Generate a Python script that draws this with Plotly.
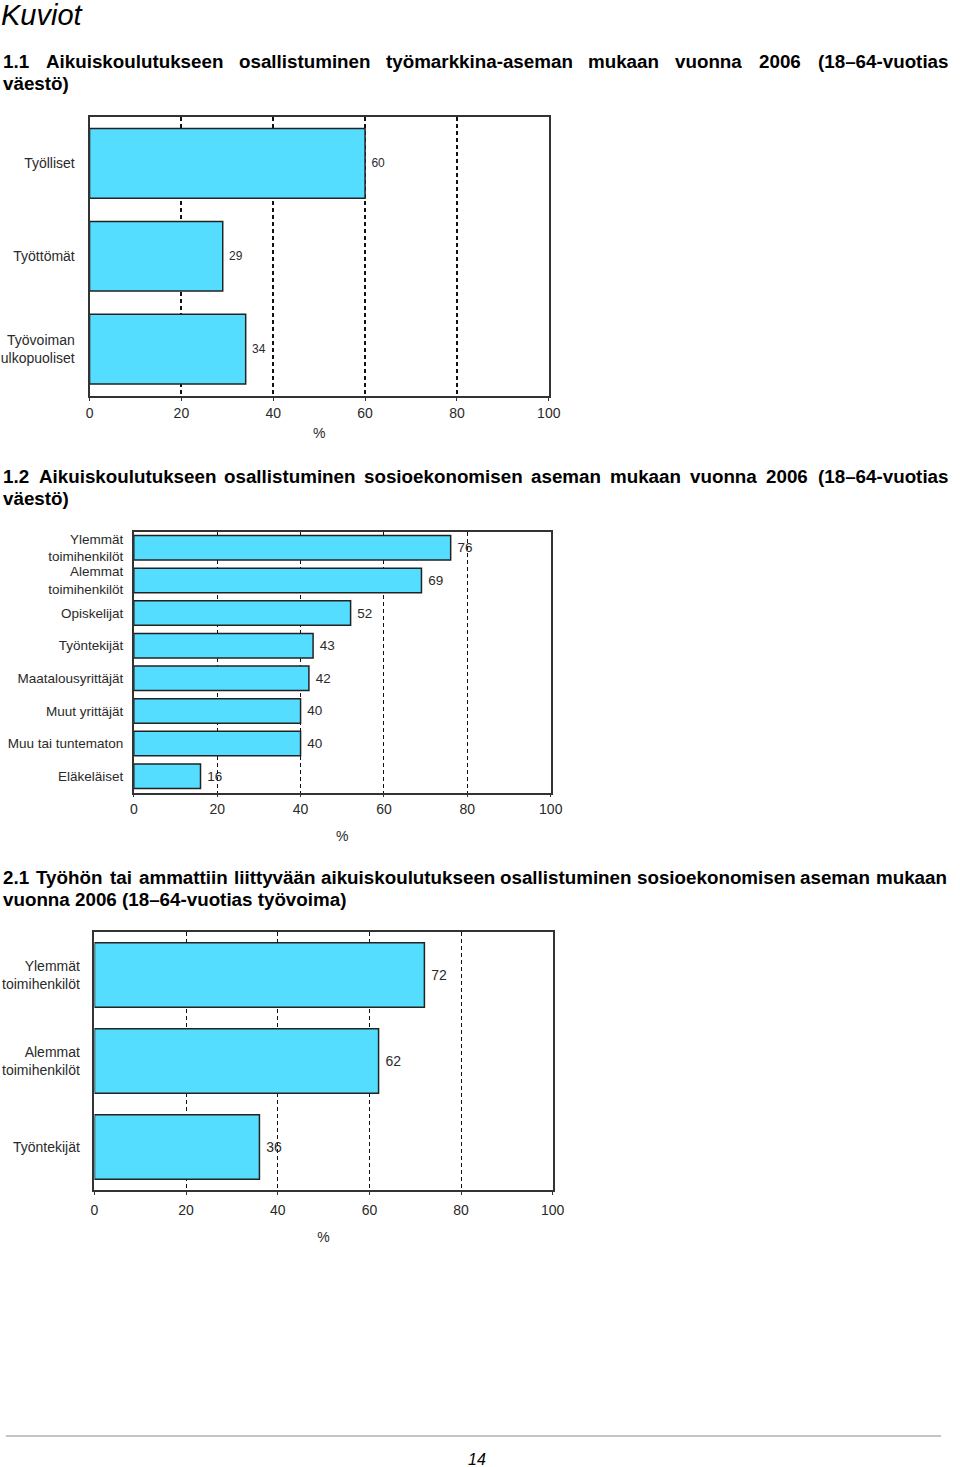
import plotly.graph_objects as go

# ---------------- data ----------------
cats1 = ["Työlliset", "Työttömät", "Työvoiman<br>ulkopuoliset"]
vals1 = [60, 29, 34]

cats2 = ["Ylemmät<br>toimihenkilöt", "Alemmat<br>toimihenkilöt", "Opiskelijat", "Työntekijät",
         "Maatalousyrittäjät", "Muut yrittäjät", "Muu tai tuntematon", "Eläkeläiset"]
vals2 = [76, 69, 52, 43, 42, 40, 40, 16]

cats3 = ["Ylemmät<br>toimihenkilöt", "Alemmat<br>toimihenkilöt", "Työntekijät"]
vals3 = [72, 62, 36]

x_ticks = [0, 20, 40, 60, 80, 100]

page_title = "Kuviot"
title1 = ["1.1 Aikuiskoulutukseen osallistuminen työmarkkina-aseman mukaan vuonna 2006 (18–64-vuotias", "väestö)"]
title2 = ["1.2 Aikuiskoulutukseen osallistuminen sosioekonomisen aseman mukaan vuonna 2006 (18–64-vuotias", "väestö)"]
title3 = ["2.1 Työhön tai ammattiin liittyvään aikuiskoulutukseen osallistuminen sosioekonomisen aseman mukaan",
          "vuonna 2006 (18–64-vuotias työvoima)"]
page_no = "14"

# ---------------- styling ----------------
W, H = 960, 1467
BAR = "#55DDFF"
TXT = "#2a2a2a"
FONT = "Liberation Sans, Arial, sans-serif"
NBSP = "\u00a0"

def px(y):
    return 1 - y / H

fig = go.Figure()

charts = [
    dict(cats=cats1, vals=vals1, x=(87, 554), y=(117, 395.5), cat_size=14, val_size=12,
         gw=1.6, lw=2, tls=1, ylab=10, tstand=8),
    dict(cats=cats2, vals=vals2, x=(132, 556), y=(531.5, 792.5), cat_size=13.5, val_size=13.5,
         gw=1.0, lw=1.5, tls=0, ylab=6, tstand=15),
    dict(cats=cats3, vals=vals3, x=(92, 558), y=(932, 1190), cat_size=14, val_size=14,
         gw=1.0, lw=1.5, tls=3, ylab=10, tstand=16),
]

for i, c in enumerate(charts, start=1):
    sfx = "" if i == 1 else str(i)
    fig.add_trace(go.Bar(
        x=c["vals"], y=c["cats"], orientation="h",
        marker=dict(color=BAR, line=dict(color="#222222", width=1.5)),
        text=[NBSP + str(v) for v in c["vals"]], textposition="outside",
        textfont=dict(family=FONT, size=c["val_size"], color=TXT),
        cliponaxis=False, showlegend=False, hoverinfo="x+y",
        xaxis="x" + sfx, yaxis="y" + sfx,
    ))
    fig.layout["xaxis" + sfx] = dict(
        domain=[c["x"][0] / W, c["x"][1] / W], anchor="y" + sfx,
        range=[0, 100], tickvals=x_ticks, ticktext=[str(t) for t in x_ticks],
        showgrid=True, gridcolor="#111111", gridwidth=c["gw"], griddash="4px,3px",
        showline=True, mirror=True, linecolor="#333333", linewidth=c["lw"],
        ticks="outside", ticklen=3, tickcolor="#333333", ticklabelstandoff=c["tls"],
        tickfont=dict(family=FONT, size=14, color=TXT),
        zeroline=False, fixedrange=True,
        title=dict(text="%", font=dict(family=FONT, size=14, color=TXT), standoff=c["tstand"]),
    )
    fig.layout["yaxis" + sfx] = dict(
        domain=[px(c["y"][1]), px(c["y"][0])], anchor="x" + sfx,
        autorange="reversed", showgrid=False, zeroline=False,
        showline=True, mirror=True, linecolor="#333333", linewidth=c["lw"],
        ticks="", ticklabelstandoff=c["ylab"],
        tickfont=dict(family=FONT, size=c["cat_size"], color=TXT), fixedrange=True,
    )

# ---------------- page text (justified titles) ----------------
AW = {' ': 278, '(': 333, ')': 333, '-': 333, '.': 278, '–': 556, 'A': 722, 'T': 611,
      'a': 556, 'b': 611, 'c': 556, 'd': 611, 'e': 556, 'f': 333, 'g': 611, 'h': 611,
      'i': 278, 'j': 278, 'k': 556, 'l': 278, 'm': 889, 'n': 611, 'o': 611, 'p': 611,
      'q': 611, 'r': 389, 's': 556, 't': 333, 'u': 611, 'v': 556, 'w': 778, 'x': 556,
      'y': 556, 'z': 500, 'ä': 556, 'ö': 611}
for d in "0123456789":
    AW[d] = 556

TSIZE = 18.8
annotations = []

def add_text(text, x, y, size, xanchor="left", yanchor="middle", italic=False, bold=True):
    t = f"<b>{text}</b>" if bold else text
    if italic:
        t = f"<i>{t}</i>"
    annotations.append(dict(text=t, x=x / W, y=px(y), xref="paper", yref="paper",
                            xanchor=xanchor, yanchor=yanchor, showarrow=False,
                            borderpad=0,
                            font=dict(family=FONT, size=size, color="#000000")))

def justify(text, y, x0=-2, x1=957, size=TSIZE):
    words = text.split(" ")
    ws = [sum(AW.get(ch, 556) for ch in w) * size / 1000 for w in words]
    gap = (x1 - x0 - sum(ws)) / (len(words) - 1)
    x = x0
    for w, wd in zip(words, ws):
        add_text(w, x, y, size)
        x += wd + gap

add_text(page_title, -4, 15, 29, italic=True, bold=False)
justify(title1[0], 62)
add_text(title1[1], -2, 83.5, TSIZE)
justify(title2[0], 476.5)
add_text(title2[1], -2, 498, TSIZE)
justify(title3[0], 877.5)
add_text(title3[1], -2, 899, TSIZE)
add_text(page_no, 481, 1459, 16, xanchor="center", italic=True, bold=False)

fig.update_layout(
    width=W, height=H, margin=dict(l=0, r=0, t=0, b=0),
    paper_bgcolor="white", plot_bgcolor="white",
    bargap=0.25, annotations=annotations,
    shapes=[dict(type="line", xref="paper", yref="paper", x0=2 / W, x1=953 / W,
                 y0=px(1436), y1=px(1436), line=dict(color="#8a8a8a", width=1))],
    font=dict(family=FONT, color=TXT),
)

fig.write_html("out.html", config={"displayModeBar": False},
               post_script="document.body.style.margin='0px';")
